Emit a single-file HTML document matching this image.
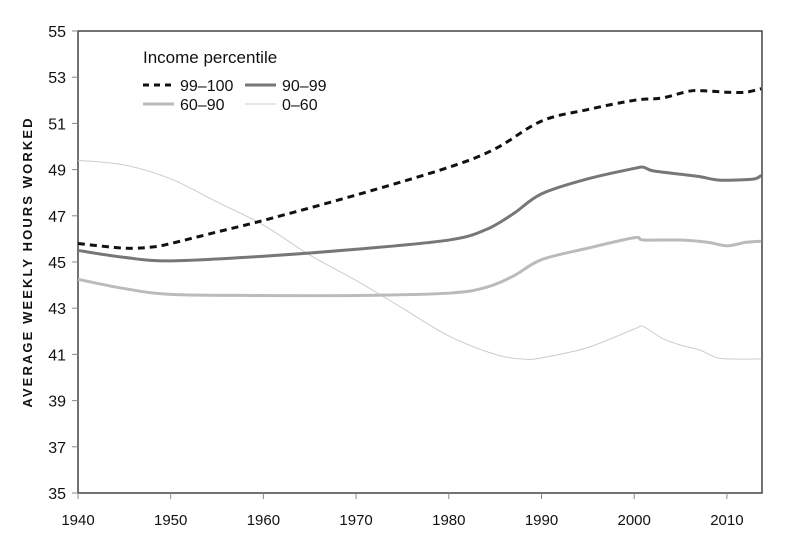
<!DOCTYPE html>
<html><head><meta charset="utf-8"><style>
body{margin:0;background:#fff;width:789px;height:541px;overflow:hidden}
text{font-family:"Liberation Sans",sans-serif;fill:#111}
</style></head><body>
<svg id="s" width="789" height="541" viewBox="0 0 789 541">
<rect x="78" y="31" width="684" height="462" fill="none" stroke="#444" stroke-width="1.5"/>
<g id="ax"></g>
<text transform="translate(32,262) rotate(-90)" text-anchor="middle" font-size="13" font-weight="bold" letter-spacing="2.1">AVERAGE WEEKLY HOURS WORKED</text>
<text x="143" y="63" font-size="17">Income percentile</text>
<line x1="143" y1="85" x2="174" y2="85" stroke="#111" stroke-width="3" stroke-dasharray="6,5"/>
<text x="180" y="91" font-size="16">99–100</text>
<line x1="245" y1="85" x2="276" y2="85" stroke="#777" stroke-width="3"/>
<text x="282" y="91" font-size="16">90–99</text>
<line x1="143" y1="104" x2="174" y2="104" stroke="#bbb" stroke-width="3"/>
<text x="180" y="110" font-size="16">60–90</text>
<line x1="245" y1="104" x2="276" y2="104" stroke="#ccc" stroke-width="1"/>
<text x="282" y="110" font-size="16">0–60</text>
<g id="ser"></g>
</svg>
<script>
const X=y=>78+(y-1940)*9.27, Y=v=>31+(55-v)*23.1;
let ax='';
for(let v=35;v<=55;v+=2){ax+=`<line x1="72" x2="78" y1="${Y(v)}" y2="${Y(v)}" stroke="#888"/><text x="66" y="${Y(v)+6}" font-size="16" text-anchor="end">${v}</text>`;}
for(let y=1940;y<=2010;y+=10){ax+=`<line x1="${X(y)}" x2="${X(y)}" y1="493" y2="499" stroke="#888"/><text x="${X(y)}" y="525" font-size="15" text-anchor="middle">${y}</text>`;}
document.getElementById('ax').innerHTML=ax;
function path(d){const p=d.map(([a,b])=>[X(a),Y(b)]);let s=`M${p[0]}`;
for(let i=0;i<p.length-1;i++){const p0=p[i-1]||p[i],p1=p[i],p2=p[i+1],p3=p[i+2]||p2;
s+=` C${p1[0]+(p2[0]-p0[0])/6},${p1[1]+(p2[1]-p0[1])/6} ${p2[0]-(p3[0]-p1[0])/6},${p2[1]-(p3[1]-p1[1])/6} ${p2[0]},${p2[1]}`;}return s;}
const S=[
[[[1940,49.4],[1945,49.2],[1950,48.6],[1955,47.6],[1960,46.6],[1965,45.3],[1970,44.2],[1975,43.0],[1980,41.8],[1985,41.0],[1988,40.8],[1990,40.85],[1995,41.3],[2000,42.1],[2001,42.2],[2003,41.7],[2005,41.4],[2007,41.2],[2009,40.85],[2011,40.8],[2013.7,40.8]],'#ccc',1,''],
[[[1940,44.25],[1945,43.85],[1950,43.6],[1960,43.55],[1970,43.55],[1980,43.65],[1984,43.9],[1987,44.4],[1990,45.1],[1995,45.6],[2000,46.05],[2001,45.95],[2005,45.95],[2008,45.85],[2010,45.7],[2012,45.85],[2013.7,45.9]],'#bbb',3,''],
[[[1940,45.5],[1945,45.2],[1950,45.05],[1960,45.25],[1970,45.55],[1980,45.95],[1984,46.4],[1987,47.1],[1990,47.95],[1995,48.6],[2000,49.05],[2001,49.1],[2002,48.95],[2005,48.8],[2007,48.7],[2009,48.55],[2011,48.55],[2013,48.6],[2013.7,48.75]],'#777',3,''],
[[[1940,45.8],[1945,45.6],[1948,45.65],[1950,45.8],[1955,46.3],[1960,46.8],[1970,47.9],[1980,49.1],[1985,49.9],[1990,51.1],[1995,51.6],[2000,52.0],[2003,52.1],[2006,52.4],[2008,52.4],[2010,52.35],[2012,52.35],[2013.7,52.5]],'#111',3,'7,5']];
document.getElementById('ser').innerHTML=S.map(([d,c,w,da])=>`<path d="${path(d)}" fill="none" stroke="${c}" stroke-width="${w}" stroke-dasharray="${da}"/>`).join('');
</script>
</body></html>
